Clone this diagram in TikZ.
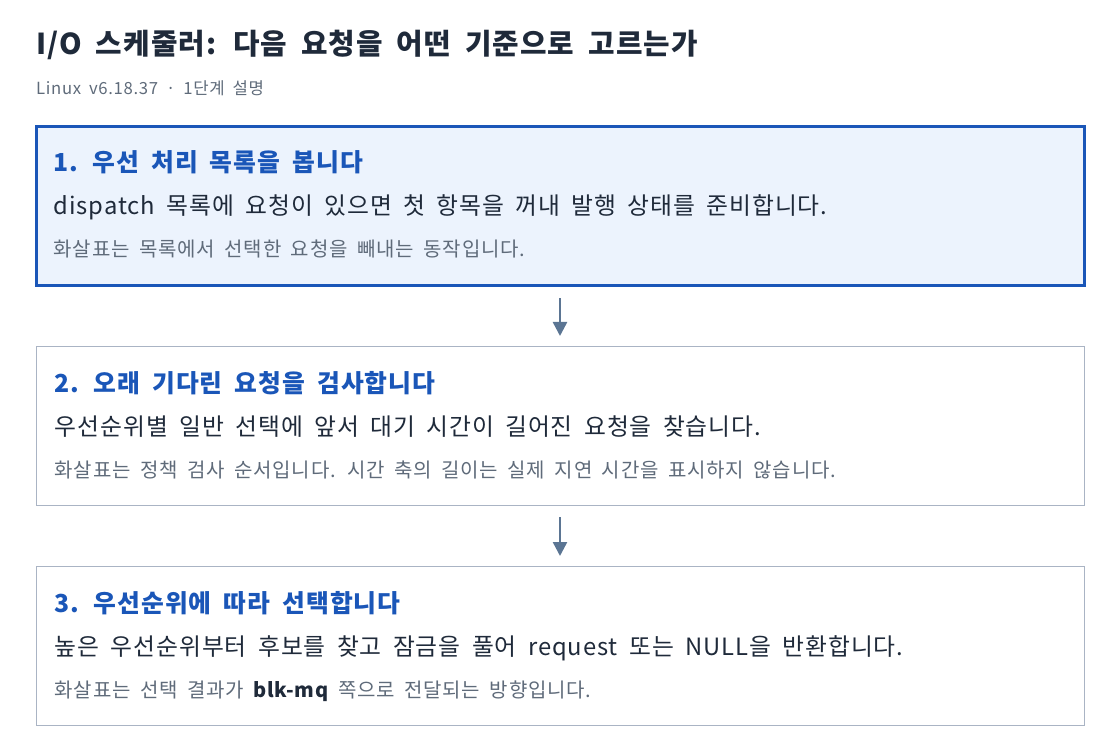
\documentclass[tikz,border=0pt]{standalone}
\usepackage{fontspec}
\setmainfont[LetterSpace=4, WordSpace=1.8]{Noto Sans CJK KR}
\usetikzlibrary{arrows.meta}
\definecolor{inkdark}{HTML}{1F2A3A}
\definecolor{inkgray}{HTML}{5F6B7A}
\definecolor{stepblue}{HTML}{1A56B8}
\definecolor{stepfill}{HTML}{ECF3FD}
\definecolor{edgegray}{HTML}{AAB4C4}
\definecolor{arrowink}{HTML}{5B7593}
\tikzset{
  stepbox/.style={rectangle, draw=edgegray, line width=1pt, fill=white,
                  minimum width=1048pt, minimum height=159pt, inner sep=0pt},
  activebox/.style={stepbox, draw=stepblue, line width=3pt, fill=stepfill},
  steptitle/.style={anchor=base west, inner sep=0pt, text=stepblue,
                    font=\fontsize{24.8}{28}\selectfont\bfseries},
  stepbody/.style={anchor=base west, inner sep=0pt, text=inkdark,
                   font=\fontsize{23.8}{28}\selectfont},
  stepnote/.style={anchor=base west, inner sep=0pt, text=inkgray,
                   font=\fontsize{20}{24}\selectfont},
  flow/.style={-{Triangle[width=14pt, length=14pt]}, draw=arrowink,
               line width=2.5pt, shorten <=11pt, shorten >=10pt}
}

\begin{document}
\begin{tikzpicture}[x=1pt, y=-1pt]
        \useasboundingbox (0,0) rectangle (1120,754);

        % --- Heading
        \node[anchor=base west, inner sep=0pt, text=inkdark,
              font=\fontsize{28.8}{32}\selectfont\bfseries] (title) at (36,55)
              {I/O 스케줄러: 다음 요청을 어떤 기준으로 고르는가};
        \node[anchor=base west, inner sep=0pt, text=inkgray,
              font=\fontsize{16.7}{20}\selectfont] (subtitle) at (36,95)
              {Linux v6.18.37 · 1단계 설명};

        % --- Step boxes
        \node[activebox] (box1) at (560,206.5) {};
        \node[stepbox] (box2) at (560,426) {};
        \node[stepbox] (box3) at (560,646) {};

        % --- Step 1
        \node[steptitle] (t1) at ([shift={(19,46)}]box1.north west)
              {1. 우선 처리 목록을 봅니다};
        \node[stepbody] (b1) at ([shift={(19,89)}]box1.north west)
              {dispatch 목록에 요청이 있으면 첫 항목을 꺼내 발행 상태를 준비합니다.};
        \node[stepnote] (n1) at ([shift={(19,131)}]box1.north west)
              {화살표는 목록에서 선택한 요청을 빼내는 동작입니다.};

        % --- Step 2
        \node[steptitle] (t2) at ([shift={(19,46)}]box2.north west)
              {2. 오래 기다린 요청을 검사합니다};
        \node[stepbody] (b2) at ([shift={(19,89)}]box2.north west)
              {우선순위별 일반 선택에 앞서 대기 시간이 길어진 요청을 찾습니다.};
        \node[stepnote] (n2) at ([shift={(19,131)}]box2.north west)
              {화살표는 정책 검사 순서입니다. 시간 축의 길이는 실제 지연 시간을 표시하지 않습니다.};

        % --- Step 3
        \node[steptitle] (t3) at ([shift={(19,46)}]box3.north west)
              {3. 우선순위에 따라 선택합니다};
        \node[stepbody] (b3) at ([shift={(19,89)}]box3.north west)
              {높은 우선순위부터 후보를 찾고 잠금을 풀어 request 또는 NULL을 반환합니다.};
        \node[stepnote] (n3) at ([shift={(19,131)}]box3.north west)
              {화살표는 선택 결과가 \textcolor{inkdark}{\bfseries blk-mq} 쪽으로 전달되는 방향입니다.};

        % --- Flow between steps
        \draw[flow] (box1) -- (box2);
        \draw[flow] (box2) -- (box3);

        \end{tikzpicture}
\end{document}
